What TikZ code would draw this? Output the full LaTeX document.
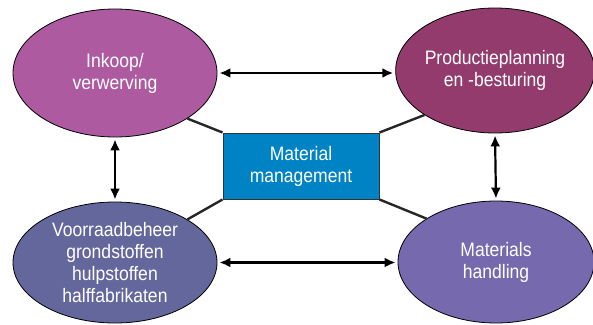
\documentclass[tikz,border=0pt]{standalone}
\usepackage{fontspec}
\setmainfont{Liberation Sans}[FakeStretch=0.9]
\usetikzlibrary{shapes.geometric,arrows.meta}
\definecolor{cInkoop}{HTML}{AD5AA1}
\definecolor{cProd}{HTML}{943B6E}
\definecolor{cVoorraad}{HTML}{63679B}
\definecolor{cHandling}{HTML}{7769AE}
\definecolor{cMM}{HTML}{0083C4}
\tikzset{
  oval/.style={ellipse, draw=black, line width=0.8pt, text=white, align=center,
    font=\fontsize{19.5}{22}\selectfont, inner sep=0pt},
  mmbox/.style={rectangle, draw=black!80, line width=1pt, fill=cMM, text=white,
    align=center, font=\fontsize{19.5}{22}\selectfont, minimum width=156pt, minimum height=66pt},
  link/.style={line width=2.4pt, black!85},
  dbl/.style={line width=2.2pt, {Latex[length=11pt,width=10pt]}-{Latex[length=11pt,width=10pt]}, shorten <=2pt, shorten >=2pt}
}
\begin{document}
\begin{tikzpicture}[x=1pt,y=-1pt]
\useasboundingbox (0,0) rectangle (593,324);
\node[mmbox] (mm) at (301,166) {Material\\management};
\node[oval, fill=cInkoop, minimum width=204pt, minimum height=128pt] (tl) at (115,73) {Inkoop/\\verwerving};
\node[oval, fill=cProd, minimum width=194pt, minimum height=125pt] (tr) at (495,70.5) {Productieplanning\\en -besturing};
\node[oval, fill=cVoorraad, minimum width=204pt, minimum height=121pt] (bl) at (115,262.5) {Voorraadbeheer\\grondstoffen\\hulpstoffen\\halffabrikaten};
\node[oval, fill=cHandling, minimum width=196pt, minimum height=122pt] (br) at (496,262) {Materials\\handling};
\draw[link] (mm.north west) -- (tl.south east);
\draw[link] (mm.north east) -- (tr.south west);
\draw[link] (mm.south west) -- (bl.north east);
\draw[link] (mm.south east) -- (br.north west);
\draw[dbl] (tl.east) -- (tr.west |- tl.east);
\draw[dbl] (bl.east) -- (br.west |- bl.east);
\draw[dbl] (tl.south) -- (bl.north);
\draw[dbl] (tr.south) -- (br.north);
\end{tikzpicture}
\end{document}
